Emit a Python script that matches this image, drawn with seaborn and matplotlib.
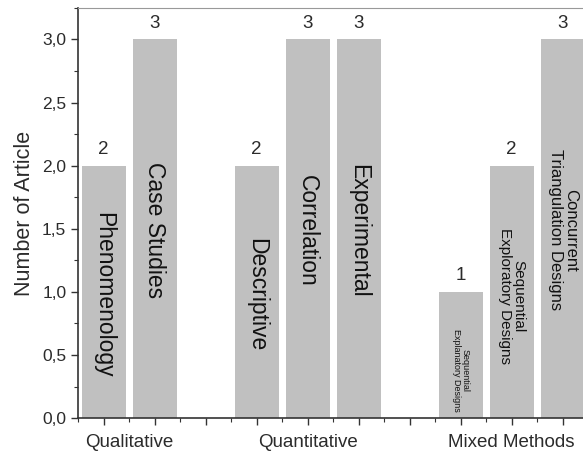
import matplotlib
matplotlib.use("Agg")
import matplotlib.pyplot as plt
import matplotlib.ticker as mticker
import seaborn as sns
import pandas as pd

# data
positions = [1, 2, 4, 5, 6, 8, 9, 10]
counts = [2, 3, 2, 3, 3, 1, 2, 3]
designs = ["Phenomenology", "Case Studies", "Descriptive", "Correlation", "Experimental",
           "Sequential\nExplanatory Designs", "Sequential\nExploratory Designs",
           "Concurrent\nTriangulation Designs"]
groups = ["Qualitative", "Quantitative", "Mixed Methods"]
group_centers = [1.5, 5, 9]

# layout of the in-bar labels (vertical centre in data units, font size)
label_y = [0.98, 1.49, 0.98, 1.48, 1.48, 0.38, 0.97, 1.49]
label_fs = [16.5, 16.5, 16.5, 16.5, 16.5, 6.5, 11, 12]

sns.set_theme(style="white")
plt.rcParams["font.family"] = ["Liberation Sans", "DejaVu Sans"]

df = pd.DataFrame({"pos": positions, "count": counts, "design": designs})

fig = plt.figure(figsize=(5.83, 4.63), dpi=100)
ax = fig.add_axes([0.134, 0.097, 0.875, 0.886])

sns.barplot(data=df, x="pos", y="count", native_scale=True, width=0.86,
            color="#c0c0c0", saturation=1, edgecolor="none", ax=ax)

text_col = "#2b2b2b"
for p, c, d, ly, fs in zip(positions, counts, designs, label_y, label_fs):
    ax.text(p, c + 0.06, str(c), ha="center", va="bottom", fontsize=13.5, color=text_col)
    ax.text(p, ly, d, rotation=-90, ha="center", va="center", fontsize=fs,
            color="#111111", linespacing=1.0, multialignment="center")

for g, gc in zip(groups, group_centers):
    ax.text(gc, -0.06, g, transform=ax.get_xaxis_transform(), ha="center", va="center",
            fontsize=13.5, color=text_col)

ax.set_xlim(0.5, 10.5)
ax.set_ylim(0, 3.25)
ax.set_xlabel("")
ax.set_ylabel("Number of Article", fontsize=15.5, color=text_col, labelpad=5)

ax.xaxis.set_major_locator(mticker.MultipleLocator(1))
ax.xaxis.set_minor_locator(mticker.MultipleLocator(0.5))
ax.xaxis.set_major_formatter(mticker.NullFormatter())
ax.yaxis.set_major_locator(mticker.MultipleLocator(0.5))
ax.yaxis.set_minor_locator(mticker.MultipleLocator(0.25))
ax.yaxis.set_major_formatter(mticker.FuncFormatter(lambda v, _: f"{v:.1f}".replace(".", ",")))

ax.tick_params(axis="both", which="major", direction="out", length=5, width=1,
               color="#333333", labelsize=12.5, labelcolor=text_col, bottom=True, left=True)
ax.tick_params(axis="both", which="minor", direction="out", length=3, width=0.8,
               color="#333333", bottom=True, left=True)

for side in ["left", "bottom"]:
    ax.spines[side].set_color("#333333")
    ax.spines[side].set_linewidth(1.2)
for side in ["top", "right"]:
    ax.spines[side].set_color("#999999")
    ax.spines[side].set_linewidth(0.8)

fig.savefig("out.png", dpi=100)
